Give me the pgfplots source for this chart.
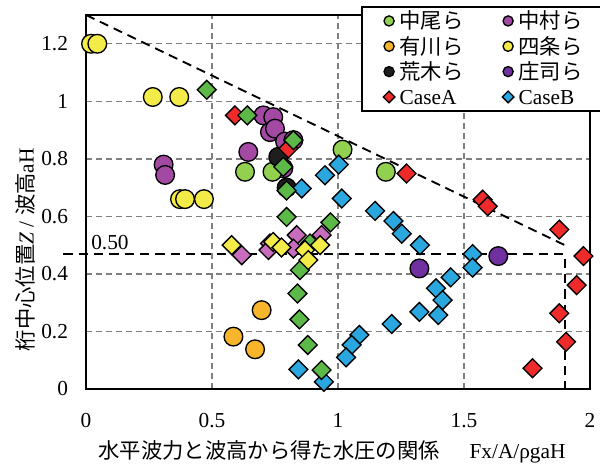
\documentclass[border=0pt]{standalone}
\usepackage{fontspec}
\setmainfont{Liberation Serif}
\newfontfamily\cjk{Noto Sans CJK JP}
\usepackage{pgfplots}
\pgfplotsset{compat=1.18}
\definecolor{cNakao}{HTML}{92D050}
\definecolor{cNakamura}{HTML}{A349A4}
\definecolor{cArikawa}{HTML}{F6B52B}
\definecolor{cShijo}{HTML}{F2EB48}
\definecolor{cAraki}{HTML}{1E1E1E}
\definecolor{cShoji}{HTML}{7030A0}
\definecolor{cA}{HTML}{EE2A2A}
\definecolor{cB}{HTML}{2AA7DF}
\definecolor{cGreenD}{HTML}{5CB947}
\definecolor{cPinkD}{HTML}{C86DBE}
\definecolor{cGrid}{HTML}{7F7F7F}
\begin{document}
\fontsize{16pt}{19pt}\selectfont
\begin{tikzpicture}
\begin{axis}[
  scale only axis, width=378pt, height=280.5pt,
  xmin=0, xmax=2, ymin=0, ymax=1.3,
  xtick={0,0.5,1,1.5,2}, ytick={0,0.2,0.4,0.6,0.8,1,1.2},
  major tick length=0pt,
  axis line style={line width=1.4pt},
  grid=major,
  grid style={dash pattern=on 4.5pt off 3pt, color=cGrid, line width=1pt},
  /pgf/number format/assume math mode=true,
  ticklabel style={font=\fontsize{16pt}{19pt}\selectfont},
  xticklabel style={yshift=-13pt},
  yticklabel style={xshift=-8pt},
  clip=false,
  xlabel={{\cjk 水平波力と波高から得た水圧の関係}\hspace{1.4em}Fx/A/ρgaH},
  xlabel style={at={(axis description cs:0.488,-0.168)}, anchor=center, font=\fontsize{16pt}{19pt}\selectfont},
  ylabel={{\cjk 桁中心位置}\textit{Z} / {\cjk 波高}aH},
  ylabel style={at={(axis description cs:-0.12,0.372)}, anchor=center, font=\fontsize{16pt}{19pt}\selectfont},
  legend columns=2,
  legend cell align=left,
  legend style={at={(axis description cs:0.5456,1.024)}, anchor=north west, draw=black, line width=1.4pt, fill=white,
    inner xsep=16pt, inner ysep=1pt, row sep=0pt, column sep=0pt,
    font=\fontsize{16pt}{19pt}\selectfont,
    nodes={draw=none, inner sep=2pt, text width=62pt, text height=13.5pt, text depth=1.5pt},
    /tikz/every odd column/.append style={column sep=1.5pt},
    /tikz/every even column/.append style={column sep=13pt}},
  legend image code/.code={\draw[#1] plot coordinates {(0pt,0pt)};},
]
\addlegendimage{only marks, mark=*, mark size=3.8pt, mark options={fill=cNakao, draw=black, line width=1pt}}
\addlegendentry{\cjk 中尾ら}
\addlegendimage{only marks, mark=*, mark size=3.8pt, mark options={fill=cNakamura, draw=black, line width=1pt}}
\addlegendentry{\cjk 中村ら}
\addlegendimage{only marks, mark=*, mark size=3.8pt, mark options={fill=cArikawa, draw=black, line width=1pt}}
\addlegendentry{\cjk 有川ら}
\addlegendimage{only marks, mark=*, mark size=3.8pt, mark options={fill=cShijo, draw=black, line width=1pt}}
\addlegendentry{\cjk 四条ら}
\addlegendimage{only marks, mark=*, mark size=3.8pt, mark options={fill=cAraki, draw=black, line width=1pt}}
\addlegendentry{\cjk 荒木ら}
\addlegendimage{only marks, mark=*, mark size=3.8pt, mark options={fill=cShoji, draw=black, line width=1pt}}
\addlegendentry{\cjk 庄司ら}
\addlegendimage{only marks, mark=square*, mark size=3.1pt, mark options={rotate=45, fill=cA, draw=black, line width=1pt}}
\addlegendentry{CaseA}
\addlegendimage{only marks, mark=square*, mark size=3.1pt, mark options={rotate=45, fill=cB, draw=black, line width=1pt}}
\addlegendentry{CaseB}

\coordinate (BL) at (rel axis cs:0,0);
\coordinate (TR) at (rel axis cs:1,1);

% 四条ら (circles)
\addplot[forget plot, only marks, mark=*, mark size=7pt, mark options={fill=cShijo, draw=black, line width=1pt}]
coordinates {(0.02,1.2) (0.045,1.2) (0.265,1.015) (0.37,1.015) (0.373,0.66) (0.393,0.66) (0.468,0.66)};
% 中村ら (circles)
\addplot[forget plot, only marks, mark=*, mark size=7pt, mark options={fill=cNakamura, draw=black, line width=1pt}]
coordinates {(0.308,0.78) (0.314,0.744) (0.704,0.951) (0.743,0.945) (0.73,0.893) (0.75,0.905) (0.644,0.824) (0.783,0.767) (0.79,0.86) (0.823,0.865)};
% 中尾ら (circles)
\addplot[forget plot, only marks, mark=*, mark size=7pt, mark options={fill=cNakao, draw=black, line width=1pt}]
coordinates {(0.631,0.755) (0.74,0.755) (1.018,0.832) (1.19,0.755)};
% 荒木ら
\addplot[forget plot, only marks, mark=*, mark size=7pt, mark options={fill=cAraki, draw=black, line width=1pt}]
coordinates {(0.763,0.807) (0.796,0.70)};
% 有川ら
\addplot[forget plot, only marks, mark=*, mark size=7pt, mark options={fill=cArikawa, draw=black, line width=1pt}]
coordinates {(0.697,0.274) (0.585,0.182) (0.671,0.138)};
% 庄司ら
\addplot[forget plot, only marks, mark=*, mark size=7pt, mark options={fill=cShoji, draw=black, line width=1pt}]
coordinates {(1.323,0.419) (1.636,0.462)};
% CaseA
\addplot[forget plot, only marks, mark=square*, mark size=5pt, mark options={rotate=45, fill=cA, draw=black, line width=1pt}]
coordinates {(0.591,0.951) (0.803,0.836) (1.272,0.749) (1.574,0.658) (1.594,0.635) (1.878,0.554) (1.974,0.462) (1.947,0.361) (1.878,0.263) (1.905,0.164) (1.772,0.072)};
% CaseB
\addplot[forget plot, only marks, mark=square*, mark size=5pt, mark options={rotate=45, fill=cB, draw=black, line width=1pt}]
coordinates {(1.003,0.78) (0.948,0.743) (0.856,0.697) (1.015,0.662) (1.147,0.619) (1.22,0.584) (1.253,0.54) (1.325,0.50) (1.534,0.469) (1.534,0.422) (1.447,0.388) (1.389,0.35) (1.415,0.309) (1.323,0.268) (1.398,0.257) (1.213,0.226) (1.085,0.188) (1.054,0.153) (1.032,0.11) (0.944,0.025) (0.843,0.068)};
% pink diamonds
\addplot[forget plot, only marks, mark=square*, mark size=5pt, mark options={rotate=45, fill=cPinkD, draw=black, line width=1pt}]
coordinates {(0.618,0.465) (0.73,0.506) (0.724,0.483) (0.836,0.535) (0.935,0.535) (0.823,0.488)};
% green diamonds
\addplot[forget plot, only marks, mark=square*, mark size=5pt, mark options={rotate=45, fill=cGreenD, draw=black, line width=1pt}]
coordinates {(0.479,1.04) (0.64,0.951) (0.823,0.865) (0.783,0.772) (0.796,0.69) (0.796,0.598) (0.97,0.579) (0.889,0.506) (0.849,0.413) (0.839,0.332) (0.847,0.242) (0.88,0.153) (0.935,0.066)};
% yellow diamonds
\addplot[forget plot, only marks, mark=square*, mark size=5pt, mark options={rotate=45, fill=cShijo, draw=black, line width=1pt}]
coordinates {(0.578,0.50) (0.743,0.511) (0.776,0.492) (0.869,0.483) (0.882,0.448) (0.929,0.50)};
% dashed reference lines
\addplot[forget plot, black, line width=1.4pt, dash pattern=on 7pt off 4.5pt] coordinates {(0,1.3) (1.9,0.50)};
\addplot[forget plot, black, line width=1.4pt, dash pattern=on 7pt off 4.5pt] coordinates {(-0.09,0.469) (1.9,0.469) (1.9,0)};
\node at (axis cs:0.095,0.51) {0.50};
\end{axis}
\pgfresetboundingbox
\path ([xshift=-64.5pt,yshift=-57.75pt]BL) rectangle ([xshift=7.5pt,yshift=11.25pt]TR);
\end{tikzpicture}
\end{document}
